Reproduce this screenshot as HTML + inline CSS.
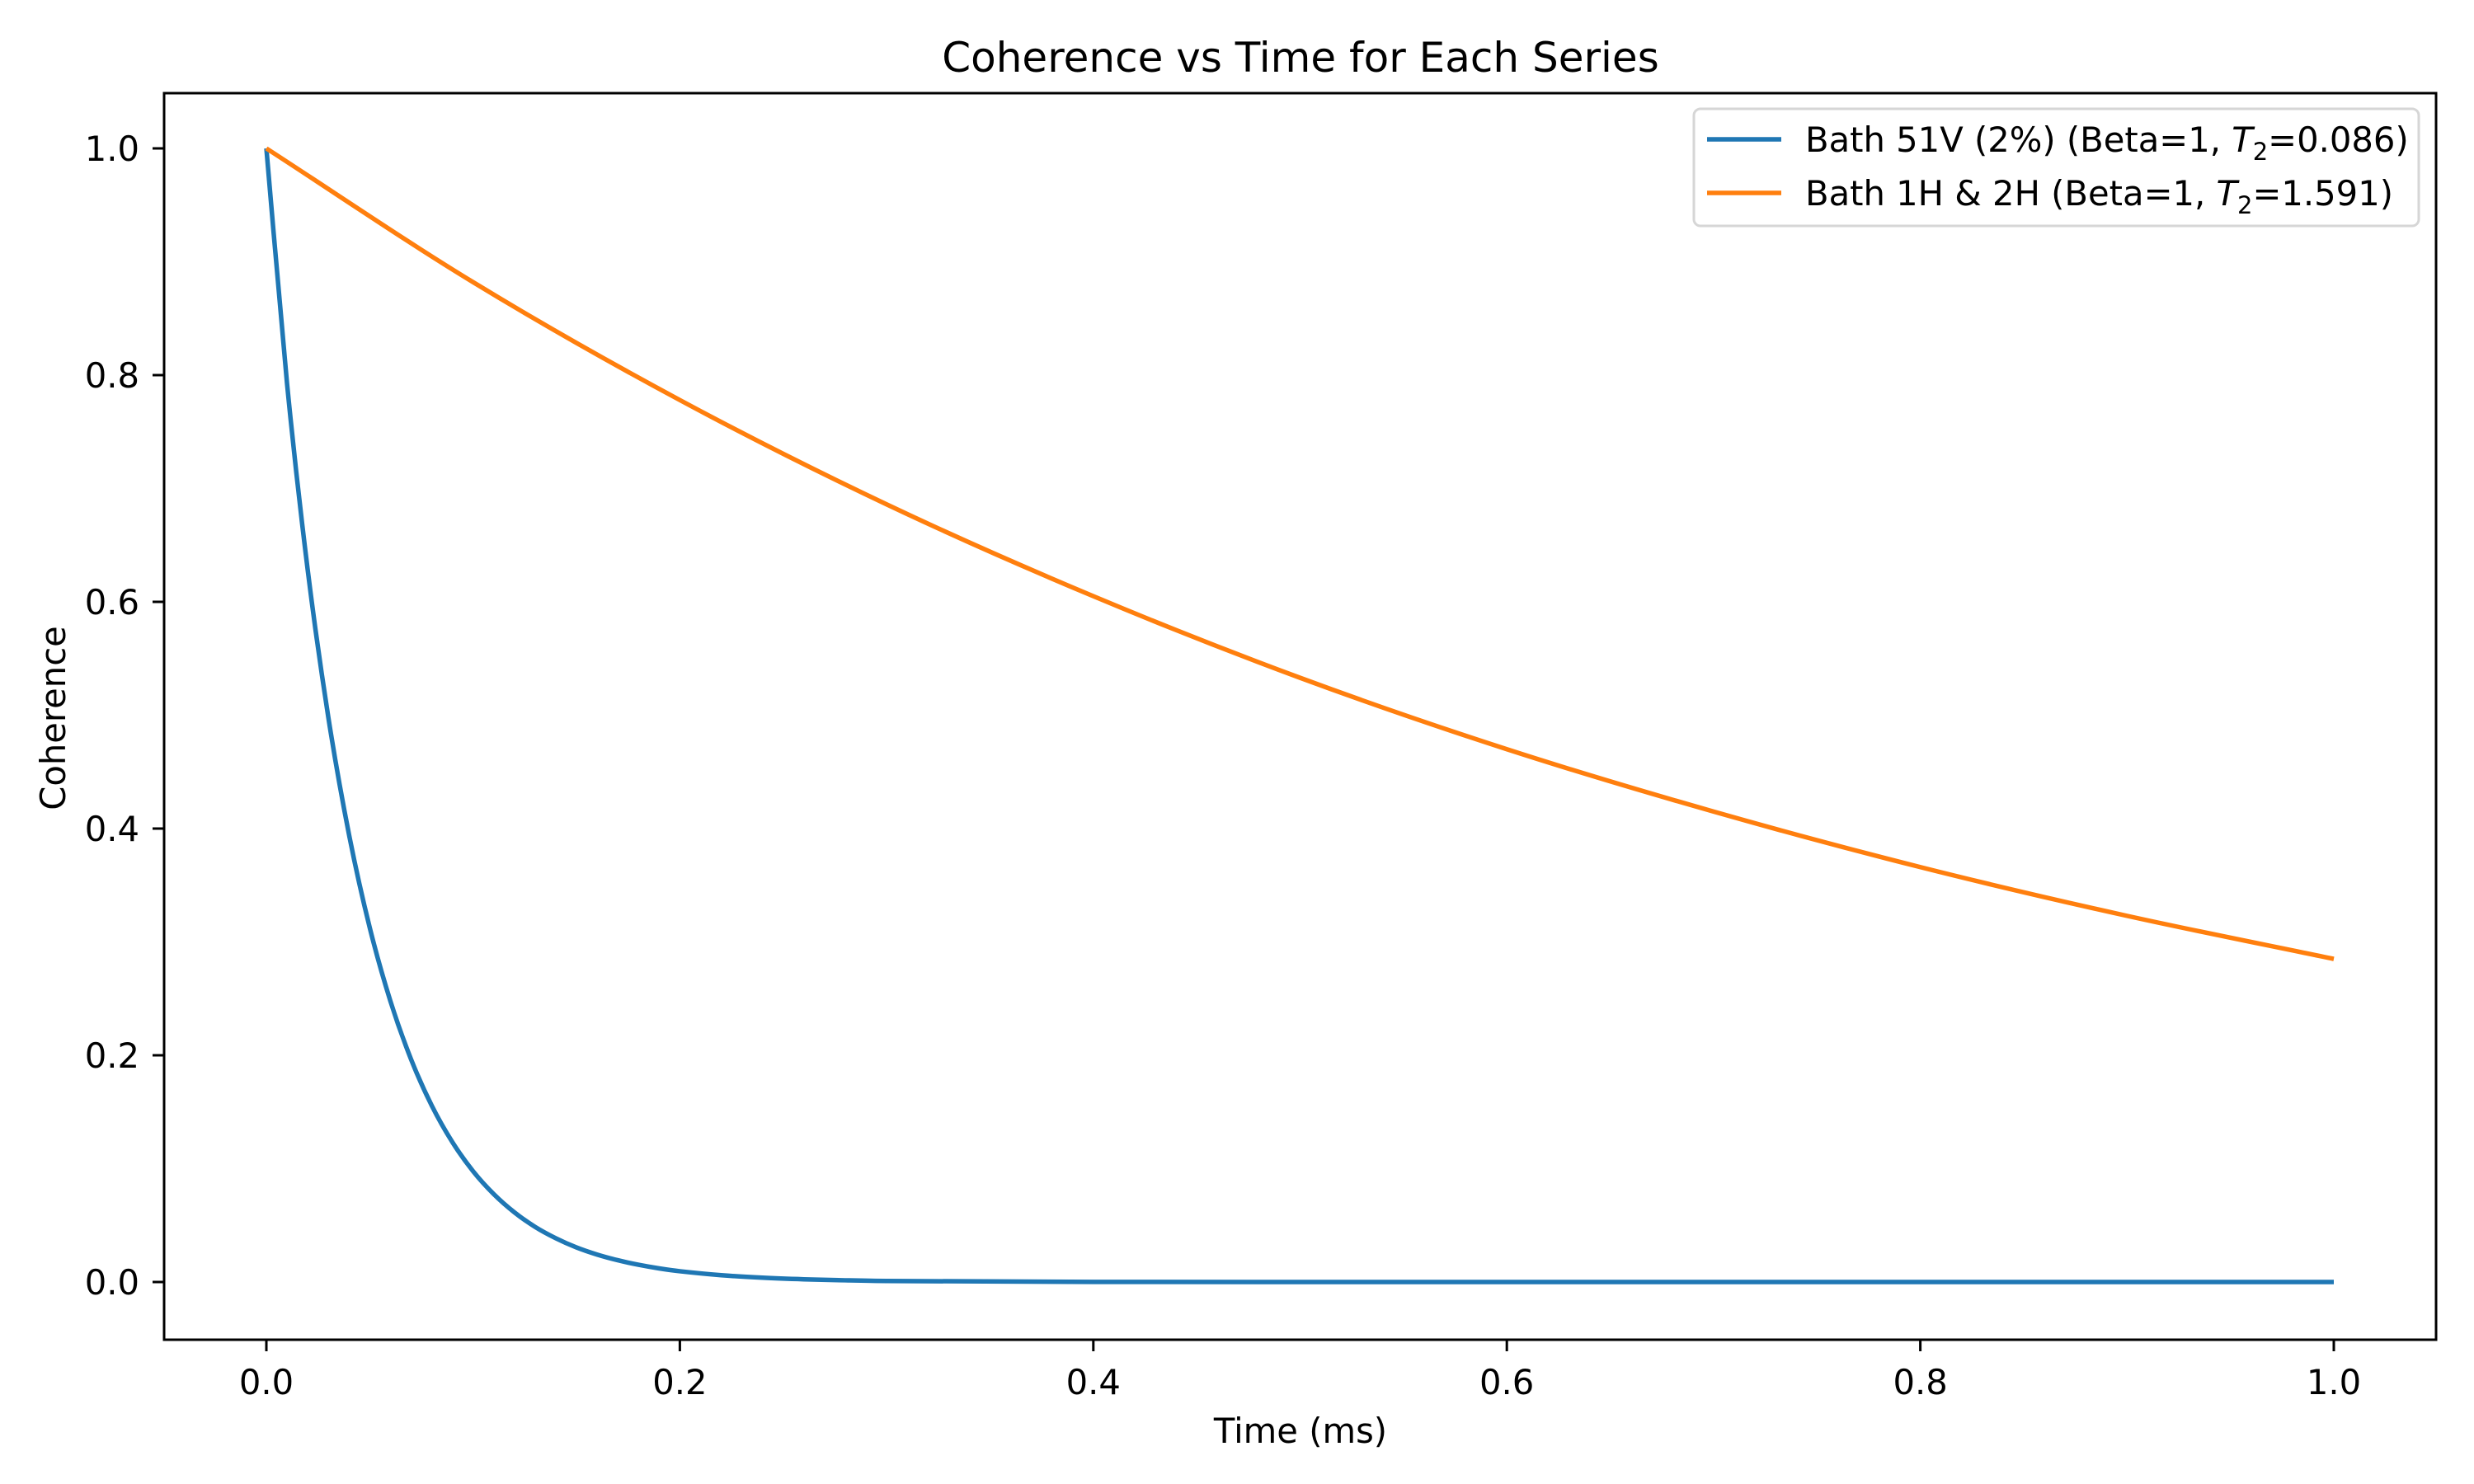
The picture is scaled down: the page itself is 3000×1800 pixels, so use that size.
<!DOCTYPE html>
<html><head><meta charset="utf-8"><style>
html,body{margin:0;padding:0;background:#fff;}
svg{display:block;font-family:"DejaVu Sans","Liberation Sans",sans-serif;}
</style></head><body>
<svg id="chart" width="3000" height="1800" viewBox="0 0 3000 1800">
<rect x="0" y="0" width="3000" height="1800" fill="#fff"/>
<g id="lines"></g>
<g id="axes"></g>
</svg>
<script>
const xTicks=[0.0,0.2,0.4,0.6,0.8,1.0];
const xTickLabels=["0.0","0.2","0.4","0.6","0.8","1.0"];
const yTicks=[0.0,0.2,0.4,0.6,0.8,1.0];
const yTickLabels=["0.0","0.2","0.4","0.6","0.8","1.0"];
const blueT=[0,0.01,0.02,0.03,0.04,0.05,0.06,0.07,0.08,0.09,0.10,0.11,0.12,0.13,0.14,0.15,0.16,0.17,0.18,0.19,0.20,0.22,0.24,0.26,0.28,0.30,0.40,0.60,0.80,1.0];
const blueV=[1,0.7925,0.6281,0.4978,0.3945,0.3126,0.2478,0.1964,0.1556,0.1233,0.0977,0.0775,0.0614,0.0486,0.0386,0.0305,0.0242,0.0192,0.0152,0.0120,0.0095,0.0060,0.0038,0.0024,0.0015,0.0009,0.0001,0,0,0];
const orangeT=[0,0.1,0.2,0.3,0.4,0.5,0.6,0.7,0.8,0.9,1.0];
const orangeV=[1,0.882,0.778,0.686,0.605,0.533,0.470,0.415,0.366,0.323,0.285];

const L=199,R=2954,T=113,B=1625;
const x0=323,x1=2830,y0=1555,y1=180;
const sx=v=>x0+(x1-x0)*v;
const sy=v=>y0+(y1-y0)*v;
const NS="http://www.w3.org/2000/svg";
function mk(tag,attrs,parent,text){const e=document.createElementNS(NS,tag);for(const k in attrs)e.setAttribute(k,attrs[k]);if(text!==undefined)e.textContent=text;parent.appendChild(e);return e;}
function pathFor(ts,vs){
  const p=ts.map((t,i)=>[sx(t),sy(vs[i])]);
  let d="M"+p[0][0]+","+p[0][1];
  for(let i=0;i<p.length-1;i++){
    const a=p[Math.max(0,i-1)],b=p[i],c=p[i+1],e=p[Math.min(p.length-1,i+2)];
    const h=c[0]-b[0];
    const m1=(c[1]-a[1])/((c[0]-a[0])||1), m2=(e[1]-b[1])/((e[0]-b[0])||1);
    d+=" C"+(b[0]+h/3)+","+(b[1]+m1*h/3)+" "+(c[0]-h/3)+","+(c[1]-m2*h/3)+" "+c[0]+","+c[1];
  }
  return d;
}
const lines=document.getElementById('lines');
const ax=document.getElementById('axes');
const pb=mk('path',{d:pathFor(blueT,blueV),fill:'none',stroke:'#1f77b4','stroke-width':5.5,'stroke-linejoin':'round'},lines);


const po=mk('path',{d:pathFor(orangeT,orangeV),fill:'none',stroke:'#ff7f0e','stroke-width':5.5,'stroke-linejoin':'round'},lines);



const frame=mk('rect',{x:L,y:T,width:R-L,height:B-T,fill:'none',stroke:'#000','stroke-width':3},ax);


xTicks.forEach((v,i)=>{
  const tk=mk('line',{x1:sx(v),x2:sx(v),y1:B,y2:B+14,stroke:'#000','stroke-width':3},ax);
  
  
  const tl=mk('text',{x:sx(v),y:B+66,'font-size':41.7,'text-anchor':'middle'},ax,xTickLabels[i]);
  
  
});
yTicks.forEach((v,i)=>{
  const tk=mk('line',{x1:L-14,x2:L,y1:sy(v),y2:sy(v),stroke:'#000','stroke-width':3},ax);
  
  
  const tl=mk('text',{x:L-30,y:sy(v)+15,'font-size':41.7,'text-anchor':'end'},ax,yTickLabels[i]);
  
  
});
</script>
<div style="position:absolute;left:0;top:0;width:3000px;height:1800px;pointer-events:none">
<svg width="3000" height="1800" viewBox="0 0 3000 1800" style="font-family:'DejaVu Sans','Liberation Sans',sans-serif">
<text x="1577" y="87" font-size="50" text-anchor="middle">Coherence vs Time for Each Series</text>
<text x="1577" y="1750" font-size="41.7" text-anchor="middle">Time (ms)</text>
<text x="0" y="0" font-size="41.7" text-anchor="middle" transform="translate(79,871) rotate(-90)">Coherence</text>
<g>
<rect x="2054" y="132" width="879" height="142" rx="8" fill="#fff" fill-opacity="0.8" stroke="#d6d6d6" stroke-width="3"/>
<line x1="2070" x2="2160" y1="169" y2="169" stroke="#1f77b4" stroke-width="5.5"/>
<text x="2189" y="184" font-size="41.7">Bath 51V (2%) (Beta=1, <tspan font-style="italic">T</tspan><tspan font-size="29" dy="10">2</tspan><tspan dy="-10">=0.086)</tspan></text>
<line x1="2070" x2="2160" y1="234" y2="234" stroke="#ff7f0e" stroke-width="5.5"/>
<text x="2189" y="249" font-size="41.7">Bath 1H &amp; 2H (Beta=1, <tspan font-style="italic">T</tspan><tspan font-size="29" dy="10">2</tspan><tspan dy="-10">=1.591)</tspan></text>
</g>
</svg>
</div>
</body></html>
